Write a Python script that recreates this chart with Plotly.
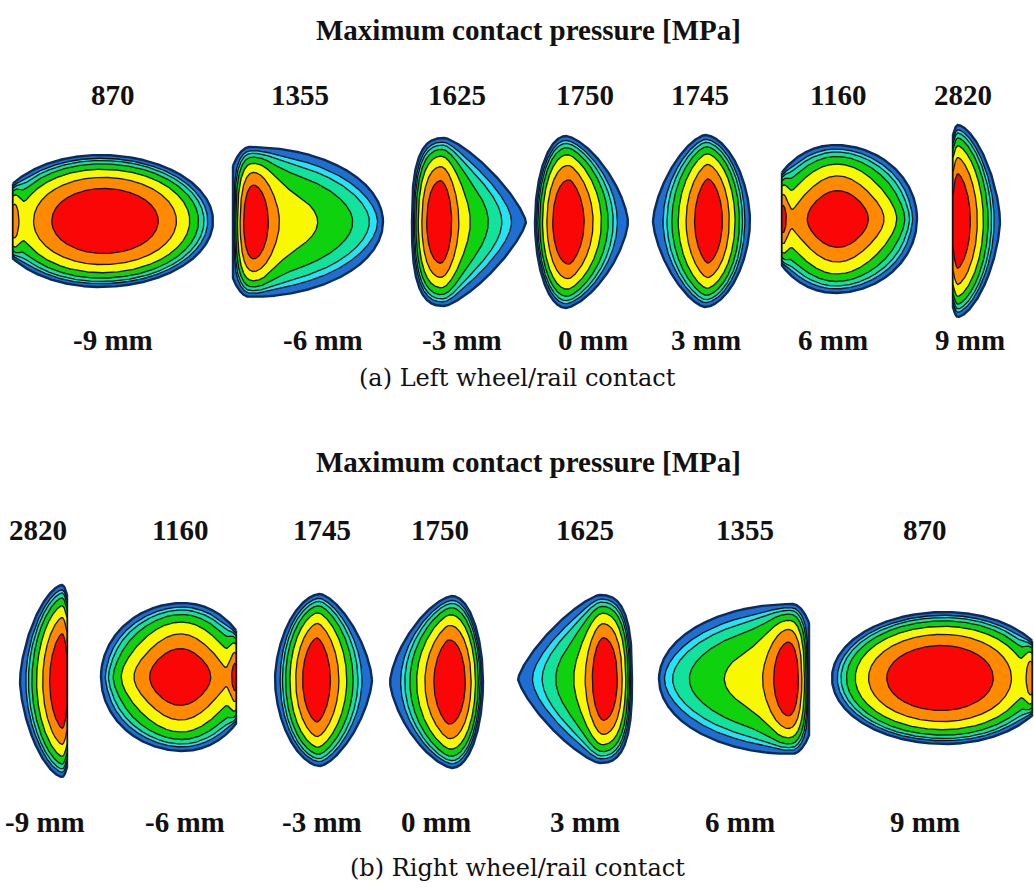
import numpy as np
import plotly.graph_objects as go

# ---------------- data ----------------
offsets_mm = [-9, -6, -3, 0, 3, 6, 9]
pmax_left = [870, 1355, 1625, 1750, 1745, 1160, 2820]
pmax_right = [2820, 1160, 1745, 1750, 1625, 1355, 870]
title_text = "Maximum contact pressure [MPa]"
caption_left = "(a) Left wheel/rail contact"
caption_right = "(b) Right wheel/rail contact"

# contour levels as fraction of the maximum contact pressure
level_fracs = [0.31, 0.40, 0.50, 0.62, 0.75, 0.87]
band_colors = ["#1f6fd3", "#22e4f4", "#12e39c", "#0dd20d", "#f8f800", "#ff8a00", "#fb0606"]

# contact-patch shape parameters for the left wheel (one per offset), in px
# L,R: peak-to-edge distance; xb: crest position; H: half height; eL,eR: edge truncation
# nL,nR: outline exponents; fL,fR: longitudinal profile (A,m,k,sw,D); bL: edge bump (A,w)
# V: transverse profile (A,m,k,sw)
shapes_left = [
    dict(L=92, R=108, xb=-5, H=66, eL=0.57, eR=0, nL=2, nR=2,
         fL=(1, 2, 0.5, 0.2, 108), fR=(1, 2, 0.5, 0.2, 108), bL=(0.30, 7), V=(1, 2, 0.5, 0.2)),
    dict(L=21, R=129, xb=-4, H=75, eL=0.75, eR=0, nL=2, nR=2,
         fL=(1, 2, 0.5, 0.2, 21), fR=(0.75, 1, 0.28, 0.15, 129), bL=None, V=(1, 2, 0.5, 0.2)),
    dict(L=29, R=85, xb=4, H=84, eL=0, eR=0, nL=2.8, nR=1.3,
         fL=(1, 2, 0.5, 0.2, 29), fR=(0.75, 1, 0.5, 0.2, 85), bL=None, V=(1, 2, 0.5, 0.2)),
    dict(L=35, R=58, xb=-4, H=86, eL=0, eR=0, nL=2, nR=1.5,
         fL=(1, 2, 0.5, 0.2, 35), fR=(1, 1.3, 0.8, 0.2, 58), bL=None, V=(1, 2, 0.5, 0.2)),
    dict(L=55, R=42, xb=-3, H=86, eL=0, eR=0, nL=1.5, nR=1.8,
         fL=(1, 1.3, 0.8, 0.2, 55), fR=(1, 1.6, 0.7, 0.2, 42), bL=None, V=(1, 2, 0.5, 0.2)),
    dict(L=56, R=79, xb=-3, H=74, eL=0.63, eR=0, nL=2, nR=2,
         fL=(0.85, 2.5, 0.5, 0.4, 80), fR=(0.85, 2.5, 0.5, 0.4, 79), bL=(0.28, 6), V=(0.85, 2.5, 0.5, 0.4)),
    dict(L=5, R=42, xb=0, H=96, eL=0.9, eR=0, nL=2, nR=1.6,
         fL=(1, 2, 0.5, 0.2, 12), fR=(1, 1.4, 0.7, 0.2, 42), bL=None, V=(1, 2, 0.5, 0.2)),
]

# ---------------- layout (pixel positions) ----------------
W, H_FIG = 1034, 890
top_peak_x = [105, 254, 441, 570, 708, 838, 958]
top_center_y = [221, 222, 222, 222, 221, 219, 221]
bot_peak_x = [62, 180, 317, 448, 603, 788, 940]
bot_center_y = [681, 677, 680, 682, 679, 679, 678]

top_value_x = [113, 300, 457, 585, 700, 838, 963]
top_mm_x = [113, 323, 462, 593, 706, 833, 970]
bot_value_x = [38, 180, 322, 440, 585, 745, 925]
bot_mm_x = [45, 185, 322, 436, 585, 740, 925]
rows_y = dict(top_title=30, top_val=95, top_mm=340, cap_a=378,
              bot_title=462, bot_val=530, bot_mm=822, cap_b=868)


def prof(d, A, m, k, sw, D):
    s = np.clip(d / D, 0, 1)
    base = np.clip(1 - s ** m, 0, None) ** k
    out = A * base + (1 - A) * np.exp(-(s / sw) ** 2)
    return np.where(d / D >= 1, 0.0, out)


def outline(x, sh):
    xb, Hh = sh["xb"], sh["H"]
    res = np.zeros_like(x)
    for side in ("L", "R"):
        e, n = sh["e" + side], sh["n" + side]
        span = (xb + sh["L"]) if side == "L" else (sh["R"] - xb)
        t0 = (1 - e ** n) ** (1 / n)
        Wd = span / t0
        sel = x < xb if side == "L" else x >= xb
        t = np.clip(np.abs(x[sel] - xb) / Wd, 0, 1)
        res[sel] = Hh * np.clip(1 - t ** n, 0, None) ** (1 / n)
    return res


def longi(x, sh):
    f = np.where(x < 0, prof(np.abs(x), *sh["fL"]), prof(np.abs(x), *sh["fR"]))
    if sh["bL"]:
        Ab, wb = sh["bL"]
        f = f + Ab * np.exp(-((x + sh["L"]) / wb) ** 2)
    return f


def transverse(eta, V):
    A, m, k, sw = V
    base = np.clip(1 - eta ** m, 0, None) ** k
    return A * base + (1 - A) * np.exp(-(eta / sw) ** 2)


def level_polys(x, b, f, c, eta, Veta):
    mask = f > c
    idx = np.flatnonzero(mask)
    polys = []
    if idx.size == 0:
        return polys
    br = np.flatnonzero(np.diff(idx) > 1)
    starts = np.r_[idx[0], idx[br + 1]]
    ends = np.r_[idx[br], idx[-1]]
    for s, e in zip(starts, ends):
        xs = x[s:e + 1]
        ratio = np.clip(c / f[s:e + 1], 0, 1)
        h = b[s:e + 1] * np.interp(ratio, Veta[::-1], eta[::-1])
        if s > 0:
            xc = x[s - 1] + (c - f[s - 1]) / (f[s] - f[s - 1]) * (x[s] - x[s - 1])
            xs = np.r_[xc, xs]
            h = np.r_[0.0, h]
        if e < len(x) - 1:
            xc = x[e] + (c - f[e]) / (f[e + 1] - f[e]) * (x[e + 1] - x[e])
            xs = np.r_[xs, xc]
            h = np.r_[h, 0.0]
        polys.append((xs, h))
    return polys


fig = go.Figure()


def add_patch(sh, px, yc, mirror):
    sgn = -1 if mirror else 1
    x = np.linspace(-sh["L"], sh["R"], 700)
    b = outline(x, sh)
    f = longi(x, sh)
    eta = np.linspace(0, 1, 2001)
    Veta = transverse(eta, sh["V"])
    polys = [(0, [(x, b)])]
    for i, c in enumerate(level_fracs):
        polys.append((i + 1, level_polys(x, b, f, c, eta, Veta)))
    for lev, plist in polys:
        for xs, h in plist:
            X = px + sgn * xs
            PX = np.r_[X, X[::-1], X[0]]
            PY = np.r_[yc - h, (yc + h)[::-1], yc - h[0]]
            fig.add_trace(go.Scatter(
                x=np.round(PX, 2), y=np.round(PY, 2), mode="lines", fill="toself",
                fillcolor=band_colors[lev],
                line=dict(color="#0c2b5a" if lev == 0 else "#141414",
                          width=2.4 if lev == 0 else 1.3),
                hoverinfo="skip", showlegend=False))


for i in range(7):
    add_patch(shapes_left[i], top_peak_x[i], top_center_y[i], False)
for i in range(7):
    add_patch(shapes_left[6 - i], bot_peak_x[i], bot_center_y[i], True)

ann = []
bold_font = dict(family="Liberation Serif", size=29, color="#111111")
cap_font = dict(family="DejaVu Serif", size=24, color="#111111")


def txt(x, y, s, font):
    ann.append(dict(x=x, y=y, xref="x", yref="y", text=s, showarrow=False,
                    xanchor="center", yanchor="middle", font=font))


txt(528, rows_y["top_title"], "<b>" + title_text + "</b>", bold_font)
txt(528, rows_y["bot_title"], "<b>" + title_text + "</b>", bold_font)
for i in range(7):
    txt(top_value_x[i], rows_y["top_val"], "<b>%d</b>" % pmax_left[i], bold_font)
    txt(top_mm_x[i], rows_y["top_mm"], "<b>%d mm</b>" % offsets_mm[i], bold_font)
    txt(bot_value_x[i], rows_y["bot_val"], "<b>%d</b>" % pmax_right[i], bold_font)
    txt(bot_mm_x[i], rows_y["bot_mm"], "<b>%d mm</b>" % offsets_mm[i], bold_font)
txt(517, rows_y["cap_a"], caption_left, cap_font)
txt(517, rows_y["cap_b"], caption_right, cap_font)

fig.update_layout(
    width=W, height=H_FIG, margin=dict(l=0, r=0, t=0, b=0),
    paper_bgcolor="white", plot_bgcolor="white",
    xaxis=dict(range=[0, W], visible=False, fixedrange=True),
    yaxis=dict(range=[H_FIG, 0], visible=False, fixedrange=True),
    annotations=ann,
)
fig.write_html("out.html", config={"displayModeBar": False},
               post_script="document.body.style.margin='0px';document.body.style.overflow='hidden';")
